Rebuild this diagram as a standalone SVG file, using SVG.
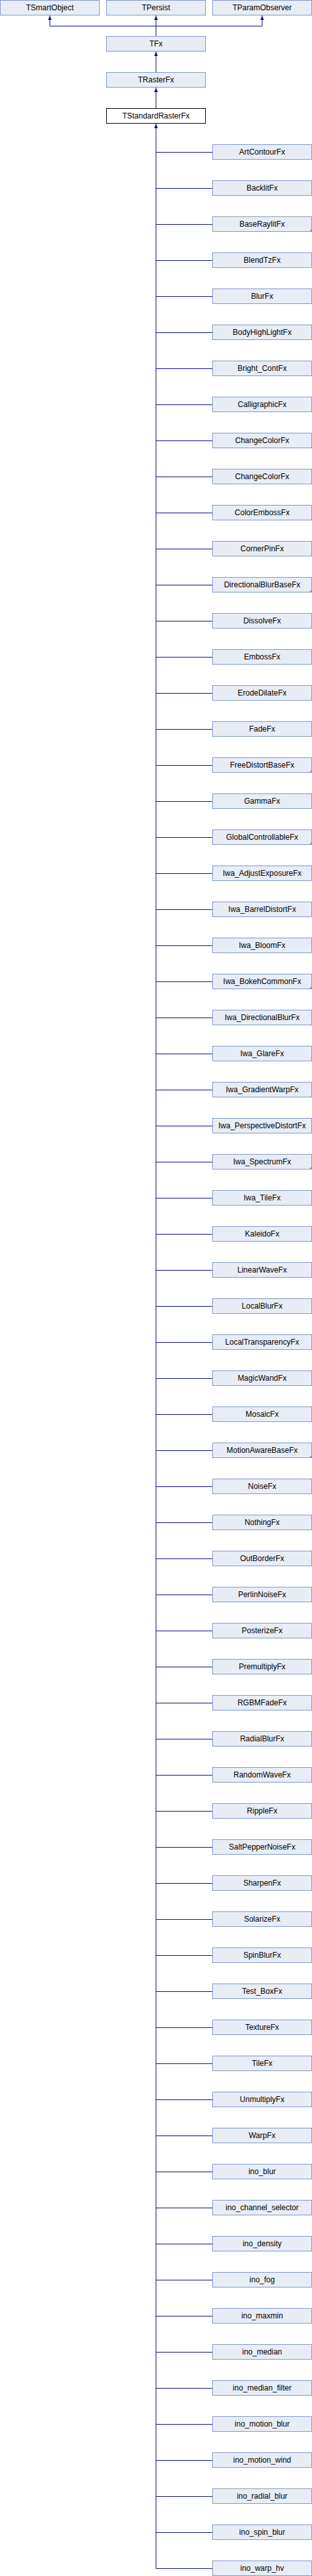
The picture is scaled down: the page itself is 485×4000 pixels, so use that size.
<svg xmlns="http://www.w3.org/2000/svg" width="485" height="4000" viewBox="0 0 485 4000">
<style>
.b{fill:#E8ECF5;stroke:#7F98CC;stroke-width:1}
.w{fill:#FFFFFF;stroke:#000000;stroke-width:1}
.t{font-family:"Liberation Sans",Arial,sans-serif;font-size:12px;fill:#000000;text-anchor:middle}
.c{fill:none;stroke:#0A0A8C;stroke-width:1}
.f{fill:#7F98CC}
</style>
<defs>
<marker id="ar" viewBox="0 0 7 6" refX="7" refY="3" markerWidth="7" markerHeight="6" markerUnits="userSpaceOnUse" orient="auto">
<path d="M0,0.3 L7,3 L0,5.7 Z" fill="#0A0A8C"/>
</marker>
</defs>
<rect width="485" height="4000" fill="#FFFFFF"/>
<g id="connectors">
<path class="c" d="M77.5,40.5 H407.5"/>
<path class="c" d="M77.5,40.5 V24" marker-end="url(#ar)"/>
<path class="c" d="M407.5,40.5 V24" marker-end="url(#ar)"/>
<path class="c" d="M242.5,56 V24" marker-end="url(#ar)"/>
<path class="c" d="M242.5,112 V80" marker-end="url(#ar)"/>
<path class="c" d="M242.5,168 V136" marker-end="url(#ar)"/>
<path class="c" d="M242.5,3988.5 V192" marker-end="url(#ar)"/>
<path class="c" d="M242.5,236.5H330M242.5,292.5H330M242.5,348.5H330M242.5,404.5H330M242.5,460.5H330M242.5,516.5H330M242.5,572.5H330M242.5,628.5H330M242.5,684.5H330M242.5,740.5H330M242.5,796.5H330M242.5,852.5H330M242.5,908.5H330M242.5,964.5H330M242.5,1020.5H330M242.5,1076.5H330M242.5,1132.5H330M242.5,1188.5H330M242.5,1244.5H330M242.5,1300.5H330M242.5,1356.5H330M242.5,1412.5H330M242.5,1468.5H330M242.5,1524.5H330M242.5,1580.5H330M242.5,1636.5H330M242.5,1692.5H330M242.5,1748.5H330M242.5,1804.5H330M242.5,1860.5H330M242.5,1916.5H330M242.5,1972.5H330M242.5,2028.5H330M242.5,2084.5H330M242.5,2140.5H330M242.5,2196.5H330M242.5,2252.5H330M242.5,2308.5H330M242.5,2364.5H330M242.5,2420.5H330M242.5,2476.5H330M242.5,2532.5H330M242.5,2588.5H330M242.5,2644.5H330M242.5,2700.5H330M242.5,2756.5H330M242.5,2812.5H330M242.5,2868.5H330M242.5,2924.5H330M242.5,2980.5H330M242.5,3036.5H330M242.5,3092.5H330M242.5,3148.5H330M242.5,3204.5H330M242.5,3260.5H330M242.5,3316.5H330M242.5,3372.5H330M242.5,3428.5H330M242.5,3484.5H330M242.5,3540.5H330M242.5,3596.5H330M242.5,3652.5H330M242.5,3708.5H330M242.5,3764.5H330M242.5,3820.5H330M242.5,3876.5H330M242.5,3932.5H330M242.5,3988.5H330"/>
</g>
<g id="TSmartObject"><rect class="b" x="0.5" y="0.5" width="154" height="23"/><text class="t" x="77.5" y="16">TSmartObject</text></g>
<g id="TPersist"><rect class="b" x="165.5" y="0.5" width="154" height="23"/><text class="t" x="242.5" y="16">TPersist</text></g>
<g id="TParamObserver"><rect class="b" x="330.5" y="0.5" width="154" height="23"/><text class="t" x="407.5" y="16">TParamObserver</text></g>
<g id="TFx"><rect class="b" x="165.5" y="56.5" width="154" height="23"/><text class="t" x="242.5" y="72">TFx</text></g>
<g id="TRasterFx"><rect class="b" x="165.5" y="112.5" width="154" height="23"/><text class="t" x="242.5" y="128">TRasterFx</text></g>
<g id="TStandardRasterFx"><rect class="w" x="165.5" y="168.5" width="154" height="23"/><text class="t" x="242.5" y="184">TStandardRasterFx</text></g>
<g id="ArtContourFx"><rect class="b" x="330.5" y="224.5" width="154" height="23"/><text class="t" x="407.5" y="240">ArtContourFx</text></g>
<g id="BacklitFx"><rect class="b" x="330.5" y="280.5" width="154" height="23"/><text class="t" x="407.5" y="296">BacklitFx</text></g>
<g id="BaseRaylitFx"><rect class="b" x="330.5" y="336.5" width="154" height="23"/><path class="f" d="M485,355 V360 H480 Z"/><text class="t" x="407.5" y="352">BaseRaylitFx</text></g>
<g id="BlendTzFx"><rect class="b" x="330.5" y="392.5" width="154" height="23"/><text class="t" x="407.5" y="408">BlendTzFx</text></g>
<g id="BlurFx"><rect class="b" x="330.5" y="448.5" width="154" height="23"/><text class="t" x="407.5" y="464">BlurFx</text></g>
<g id="BodyHighLightFx"><rect class="b" x="330.5" y="504.5" width="154" height="23"/><text class="t" x="407.5" y="520">BodyHighLightFx</text></g>
<g id="Bright_ContFx"><rect class="b" x="330.5" y="560.5" width="154" height="23"/><text class="t" x="407.5" y="576">Bright_ContFx</text></g>
<g id="CalligraphicFx"><rect class="b" x="330.5" y="616.5" width="154" height="23"/><text class="t" x="407.5" y="632">CalligraphicFx</text></g>
<g id="ChangeColorFx_1"><rect class="b" x="330.5" y="672.5" width="154" height="23"/><text class="t" x="407.5" y="688">ChangeColorFx</text></g>
<g id="ChangeColorFx_2"><rect class="b" x="330.5" y="728.5" width="154" height="23"/><text class="t" x="407.5" y="744">ChangeColorFx</text></g>
<g id="ColorEmbossFx"><rect class="b" x="330.5" y="784.5" width="154" height="23"/><text class="t" x="407.5" y="800">ColorEmbossFx</text></g>
<g id="CornerPinFx"><rect class="b" x="330.5" y="840.5" width="154" height="23"/><text class="t" x="407.5" y="856">CornerPinFx</text></g>
<g id="DirectionalBlurBaseFx"><rect class="b" x="330.5" y="896.5" width="154" height="23"/><path class="f" d="M485,915 V920 H480 Z"/><text class="t" x="407.5" y="912">DirectionalBlurBaseFx</text></g>
<g id="DissolveFx"><rect class="b" x="330.5" y="952.5" width="154" height="23"/><text class="t" x="407.5" y="968">DissolveFx</text></g>
<g id="EmbossFx"><rect class="b" x="330.5" y="1008.5" width="154" height="23"/><text class="t" x="407.5" y="1024">EmbossFx</text></g>
<g id="ErodeDilateFx"><rect class="b" x="330.5" y="1064.5" width="154" height="23"/><text class="t" x="407.5" y="1080">ErodeDilateFx</text></g>
<g id="FadeFx"><rect class="b" x="330.5" y="1120.5" width="154" height="23"/><text class="t" x="407.5" y="1136">FadeFx</text></g>
<g id="FreeDistortBaseFx"><rect class="b" x="330.5" y="1176.5" width="154" height="23"/><path class="f" d="M485,1195 V1200 H480 Z"/><text class="t" x="407.5" y="1192">FreeDistortBaseFx</text></g>
<g id="GammaFx"><rect class="b" x="330.5" y="1232.5" width="154" height="23"/><text class="t" x="407.5" y="1248">GammaFx</text></g>
<g id="GlobalControllableFx"><rect class="b" x="330.5" y="1288.5" width="154" height="23"/><path class="f" d="M485,1307 V1312 H480 Z"/><text class="t" x="407.5" y="1304">GlobalControllableFx</text></g>
<g id="Iwa_AdjustExposureFx"><rect class="b" x="330.5" y="1344.5" width="154" height="23"/><text class="t" x="407.5" y="1360">Iwa_AdjustExposureFx</text></g>
<g id="Iwa_BarrelDistortFx"><rect class="b" x="330.5" y="1400.5" width="154" height="23"/><text class="t" x="407.5" y="1416">Iwa_BarrelDistortFx</text></g>
<g id="Iwa_BloomFx"><rect class="b" x="330.5" y="1456.5" width="154" height="23"/><text class="t" x="407.5" y="1472">Iwa_BloomFx</text></g>
<g id="Iwa_BokehCommonFx"><rect class="b" x="330.5" y="1512.5" width="154" height="23"/><path class="f" d="M485,1531 V1536 H480 Z"/><text class="t" x="407.5" y="1528">Iwa_BokehCommonFx</text></g>
<g id="Iwa_DirectionalBlurFx"><rect class="b" x="330.5" y="1568.5" width="154" height="23"/><text class="t" x="407.5" y="1584">Iwa_DirectionalBlurFx</text></g>
<g id="Iwa_GlareFx"><rect class="b" x="330.5" y="1624.5" width="154" height="23"/><text class="t" x="407.5" y="1640">Iwa_GlareFx</text></g>
<g id="Iwa_GradientWarpFx"><rect class="b" x="330.5" y="1680.5" width="154" height="23"/><text class="t" x="407.5" y="1696">Iwa_GradientWarpFx</text></g>
<g id="Iwa_PerspectiveDistortFx"><rect class="b" x="330.5" y="1736.5" width="154" height="23"/><text class="t" x="407.5" y="1752">Iwa_PerspectiveDistortFx</text></g>
<g id="Iwa_SpectrumFx"><rect class="b" x="330.5" y="1792.5" width="154" height="23"/><path class="f" d="M485,1811 V1816 H480 Z"/><text class="t" x="407.5" y="1808">Iwa_SpectrumFx</text></g>
<g id="Iwa_TileFx"><rect class="b" x="330.5" y="1848.5" width="154" height="23"/><text class="t" x="407.5" y="1864">Iwa_TileFx</text></g>
<g id="KaleidoFx"><rect class="b" x="330.5" y="1904.5" width="154" height="23"/><text class="t" x="407.5" y="1920">KaleidoFx</text></g>
<g id="LinearWaveFx"><rect class="b" x="330.5" y="1960.5" width="154" height="23"/><text class="t" x="407.5" y="1976">LinearWaveFx</text></g>
<g id="LocalBlurFx"><rect class="b" x="330.5" y="2016.5" width="154" height="23"/><text class="t" x="407.5" y="2032">LocalBlurFx</text></g>
<g id="LocalTransparencyFx"><rect class="b" x="330.5" y="2072.5" width="154" height="23"/><text class="t" x="407.5" y="2088">LocalTransparencyFx</text></g>
<g id="MagicWandFx"><rect class="b" x="330.5" y="2128.5" width="154" height="23"/><text class="t" x="407.5" y="2144">MagicWandFx</text></g>
<g id="MosaicFx"><rect class="b" x="330.5" y="2184.5" width="154" height="23"/><text class="t" x="407.5" y="2200">MosaicFx</text></g>
<g id="MotionAwareBaseFx"><rect class="b" x="330.5" y="2240.5" width="154" height="23"/><path class="f" d="M485,2259 V2264 H480 Z"/><text class="t" x="407.5" y="2256">MotionAwareBaseFx</text></g>
<g id="NoiseFx"><rect class="b" x="330.5" y="2296.5" width="154" height="23"/><text class="t" x="407.5" y="2312">NoiseFx</text></g>
<g id="NothingFx"><rect class="b" x="330.5" y="2352.5" width="154" height="23"/><text class="t" x="407.5" y="2368">NothingFx</text></g>
<g id="OutBorderFx"><rect class="b" x="330.5" y="2408.5" width="154" height="23"/><text class="t" x="407.5" y="2424">OutBorderFx</text></g>
<g id="PerlinNoiseFx"><rect class="b" x="330.5" y="2464.5" width="154" height="23"/><text class="t" x="407.5" y="2480">PerlinNoiseFx</text></g>
<g id="PosterizeFx"><rect class="b" x="330.5" y="2520.5" width="154" height="23"/><text class="t" x="407.5" y="2536">PosterizeFx</text></g>
<g id="PremultiplyFx"><rect class="b" x="330.5" y="2576.5" width="154" height="23"/><text class="t" x="407.5" y="2592">PremultiplyFx</text></g>
<g id="RGBMFadeFx"><rect class="b" x="330.5" y="2632.5" width="154" height="23"/><text class="t" x="407.5" y="2648">RGBMFadeFx</text></g>
<g id="RadialBlurFx"><rect class="b" x="330.5" y="2688.5" width="154" height="23"/><text class="t" x="407.5" y="2704">RadialBlurFx</text></g>
<g id="RandomWaveFx"><rect class="b" x="330.5" y="2744.5" width="154" height="23"/><text class="t" x="407.5" y="2760">RandomWaveFx</text></g>
<g id="RippleFx"><rect class="b" x="330.5" y="2800.5" width="154" height="23"/><text class="t" x="407.5" y="2816">RippleFx</text></g>
<g id="SaltPepperNoiseFx"><rect class="b" x="330.5" y="2856.5" width="154" height="23"/><text class="t" x="407.5" y="2872">SaltPepperNoiseFx</text></g>
<g id="SharpenFx"><rect class="b" x="330.5" y="2912.5" width="154" height="23"/><text class="t" x="407.5" y="2928">SharpenFx</text></g>
<g id="SolarizeFx"><rect class="b" x="330.5" y="2968.5" width="154" height="23"/><text class="t" x="407.5" y="2984">SolarizeFx</text></g>
<g id="SpinBlurFx"><rect class="b" x="330.5" y="3024.5" width="154" height="23"/><text class="t" x="407.5" y="3040">SpinBlurFx</text></g>
<g id="Test_BoxFx"><rect class="b" x="330.5" y="3080.5" width="154" height="23"/><text class="t" x="407.5" y="3096">Test_BoxFx</text></g>
<g id="TextureFx"><rect class="b" x="330.5" y="3136.5" width="154" height="23"/><text class="t" x="407.5" y="3152">TextureFx</text></g>
<g id="TileFx"><rect class="b" x="330.5" y="3192.5" width="154" height="23"/><text class="t" x="407.5" y="3208">TileFx</text></g>
<g id="UnmultiplyFx"><rect class="b" x="330.5" y="3248.5" width="154" height="23"/><text class="t" x="407.5" y="3264">UnmultiplyFx</text></g>
<g id="WarpFx"><rect class="b" x="330.5" y="3304.5" width="154" height="23"/><text class="t" x="407.5" y="3320">WarpFx</text></g>
<g id="ino_blur"><rect class="b" x="330.5" y="3360.5" width="154" height="23"/><text class="t" x="407.5" y="3376">ino_blur</text></g>
<g id="ino_channel_selector"><rect class="b" x="330.5" y="3416.5" width="154" height="23"/><text class="t" x="407.5" y="3432">ino_channel_selector</text></g>
<g id="ino_density"><rect class="b" x="330.5" y="3472.5" width="154" height="23"/><text class="t" x="407.5" y="3488">ino_density</text></g>
<g id="ino_fog"><rect class="b" x="330.5" y="3528.5" width="154" height="23"/><text class="t" x="407.5" y="3544">ino_fog</text></g>
<g id="ino_maxmin"><rect class="b" x="330.5" y="3584.5" width="154" height="23"/><text class="t" x="407.5" y="3600">ino_maxmin</text></g>
<g id="ino_median"><rect class="b" x="330.5" y="3640.5" width="154" height="23"/><text class="t" x="407.5" y="3656">ino_median</text></g>
<g id="ino_median_filter"><rect class="b" x="330.5" y="3696.5" width="154" height="23"/><text class="t" x="407.5" y="3712">ino_median_filter</text></g>
<g id="ino_motion_blur"><rect class="b" x="330.5" y="3752.5" width="154" height="23"/><text class="t" x="407.5" y="3768">ino_motion_blur</text></g>
<g id="ino_motion_wind"><rect class="b" x="330.5" y="3808.5" width="154" height="23"/><text class="t" x="407.5" y="3824">ino_motion_wind</text></g>
<g id="ino_radial_blur"><rect class="b" x="330.5" y="3864.5" width="154" height="23"/><text class="t" x="407.5" y="3880">ino_radial_blur</text></g>
<g id="ino_spin_blur"><rect class="b" x="330.5" y="3920.5" width="154" height="23"/><text class="t" x="407.5" y="3936">ino_spin_blur</text></g>
<g id="ino_warp_hv"><rect class="b" x="330.5" y="3976.5" width="154" height="23"/><text class="t" x="407.5" y="3992">ino_warp_hv</text></g>
</svg>
